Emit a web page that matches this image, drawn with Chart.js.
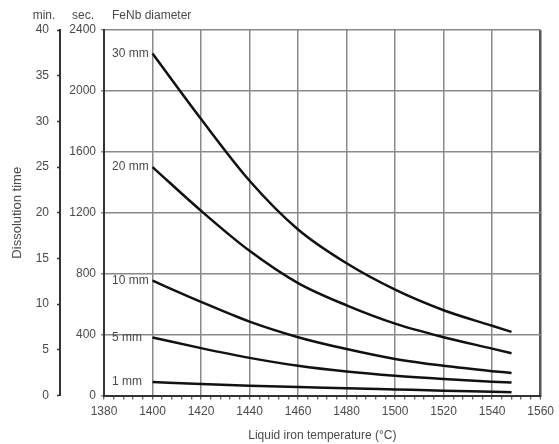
<!DOCTYPE html>
<html><head><meta charset="utf-8">
<script src="https://cdn.jsdelivr.net/npm/chart.js@4/dist/chart.umd.min.js"></script>
<style>html,body{margin:0;padding:0;background:#fff}#wrap{width:559px;height:444px}</style>
</head><body><div id="wrap"><canvas id="c" width="559" height="444"></canvas></div>
<script>
const temps = [1400, 1420, 1440, 1460, 1480, 1500, 1520, 1540, 1548];
const d30 = [2245, 1815, 1410, 1090, 868, 695, 560, 458, 418];
const d20 = [1500, 1213, 950, 738, 592, 472, 383, 308, 278];
const d10 = [754, 615, 485, 383, 305, 240, 195, 160, 148];
const d5  = [381, 311, 247, 195, 157, 129, 108, 91, 85];
const d1  = [88, 75, 64, 55, 48, 40, 32, 25, 22];
const seriesLabels = ['30 mm', '20 mm', '10 mm', '5 mm', '1 mm'];
const xTickLabels = [1380, 1400, 1420, 1440, 1460, 1480, 1500, 1520, 1540, 1560];
const secTicks = [0, 400, 800, 1200, 1600, 2000, 2400];
const minTicks = [0, 5, 10, 15, 20, 25, 30, 35, 40];

const FONT = "'Liberation Sans', Arial, sans-serif";
const TXT = '#4a4a4a';
const GRID = '#8a8a8a';
const AX = '#333';

const allSeries = [d30, d20, d10, d5, d1];
const datasets = allSeries.map((arr, i) => ({
  label: seriesLabels[i],
  data: arr.map((v, j) => ({x: temps[j], y: v})),
  borderColor: '#111',
  borderWidth: 2.5,
  pointRadius: 0,
  cubicInterpolationMode: 'monotone',
  fill: false,
  yAxisID: 'y'
}));

const labelPlugin = {
  id: 'labels',
  afterDraw(chart) {
    const {ctx, scales} = chart;
    const xs = scales.x, ys = scales.y, ym = scales.yMin;
    ctx.save();
    ctx.font = '12px ' + FONT;
    ctx.fillStyle = TXT;
    ctx.textBaseline = 'middle';
    ctx.textAlign = 'left';
    const lx = xs.getPixelForValue(xTickLabels[0]) + 8;
    allSeries.forEach((arr, i) => {
      ctx.fillText(seriesLabels[i], lx, ys.getPixelForValue(arr[0]));
    });
    ctx.fillText('FeNb diameter', lx, 16);
    ctx.textAlign = 'center';
    ctx.fillText('min.', ym.right - 16, 16);
    ctx.fillText('sec.', ys.right - 21, 16);
    ctx.restore();
  }
};

new Chart(document.getElementById('c'), {
  type: 'line',
  data: {datasets},
  options: {
    responsive: false,
    animation: false,
    layout: {padding: {top: 30, right: 16, bottom: 0, left: 0}},
    plugins: {legend: {display: false}, tooltip: {enabled: false}},
    scales: {
      x: {
        type: 'linear',
        min: xTickLabels[0],
        max: xTickLabels[xTickLabels.length - 1],
        afterFit: s => { s.height = 48.5; },
        ticks: {
          stepSize: 4,
          autoSkip: false,
          maxRotation: 0,
          padding: 5,
          color: TXT,
          font: {family: FONT, size: 12},
          callback: v => (xTickLabels.includes(v) ? String(v) : '')
        },
        grid: {
          color: c => (c.tick && c.tick.value % 20 === 0 ? (c.tick.value === 1560 ? '#555' : GRID) : 'rgba(0,0,0,0)'),
          lineWidth: c => (c.tick && c.tick.value === 1560 ? 2.5 : 1.5),
          tickColor: AX,
          tickLength: 4,
          tickWidth: 1
        },
        border: {display: true, color: AX, width: 2},
        title: {
          display: true,
          text: 'Liquid iron temperature (°C)',
          color: TXT,
          font: {family: FONT, size: 12},
          padding: {top: 2, bottom: 1}
        }
      },
      y: {
        position: 'left',
        weight: 0,
        min: 0,
        max: 2400,
        afterFit: s => { s.width = 44; },
        afterBuildTicks: s => { s.ticks = secTicks.map(v => ({value: v})); },
        ticks: {color: TXT, padding: 5, font: {family: FONT, size: 12}, callback: v => String(v)},
        grid: {color: GRID, lineWidth: 1.5, tickLength: 3},
        border: {display: true, color: AX, width: 2}
      },
      yMin: {
        position: 'left',
        weight: 1,
        min: 0,
        max: 40,
        afterFit: s => { s.width = 60; },
        afterBuildTicks: s => { s.ticks = minTicks.map(v => ({value: v})); },
        ticks: {color: TXT, padding: 8, font: {family: FONT, size: 12}, callback: v => String(v)},
        grid: {drawOnChartArea: false, tickLength: 3, tickColor: AX, tickWidth: 1.5},
        border: {display: true, color: AX, width: 2},
        title: {
          display: true,
          text: 'Dissolution time',
          color: TXT,
          font: {family: FONT, size: 13},
          padding: {top: 10, bottom: 0}
        }
      }
    }
  },
  plugins: [labelPlugin]
});
</script>
</body></html>
